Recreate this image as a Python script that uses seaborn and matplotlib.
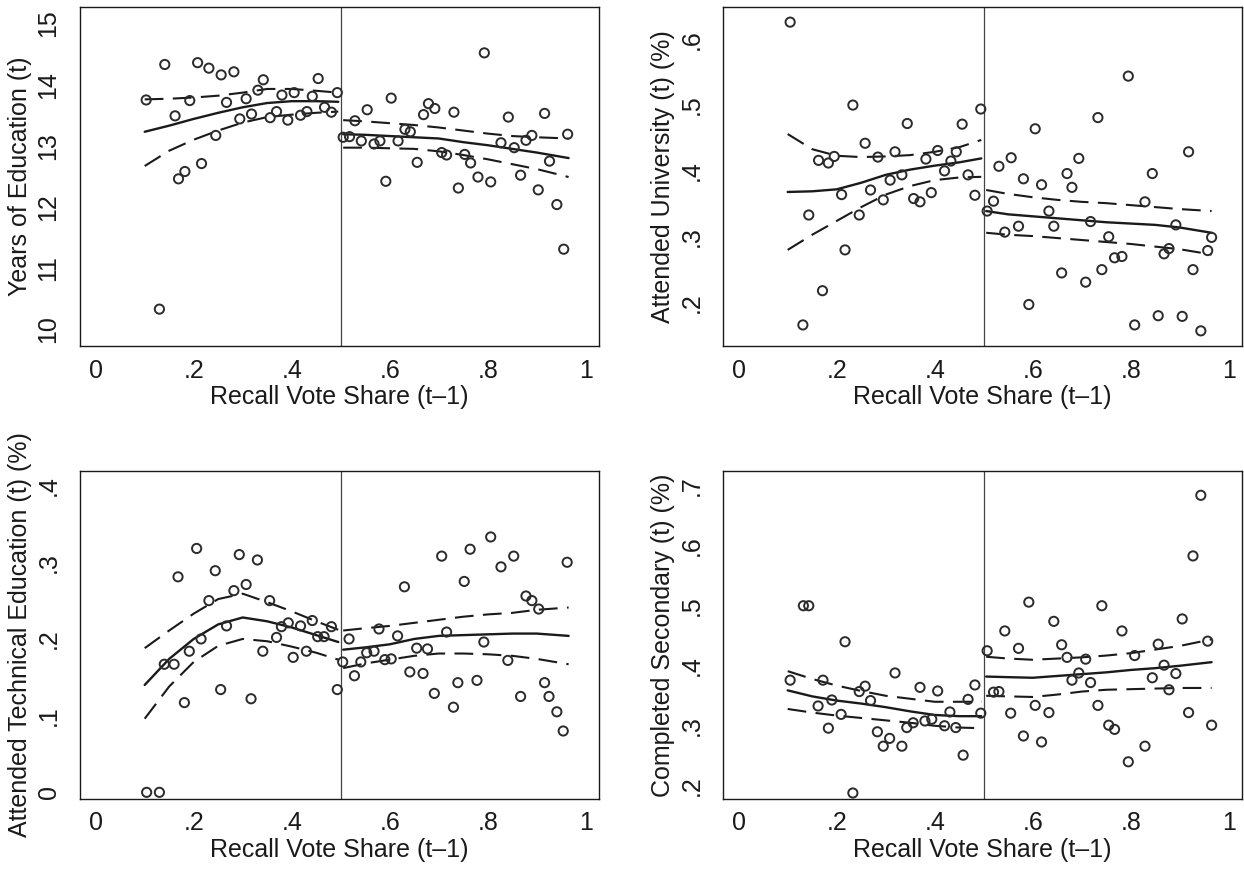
import matplotlib
matplotlib.use("Agg")
import matplotlib.pyplot as plt
import seaborn as sns

# --- panel 1: years of education ---
p1_x = [0.103, 0.130, 0.141, 0.162, 0.169, 0.182, 0.192, 0.208, 0.216, 0.231, 0.245, 0.256,
        0.267, 0.282, 0.294, 0.307, 0.318, 0.331, 0.342, 0.356, 0.369, 0.380, 0.392, 0.405,
        0.418, 0.431, 0.442, 0.454, 0.467, 0.481, 0.493,
        0.505, 0.518, 0.529, 0.542, 0.554, 0.568, 0.580, 0.592, 0.603, 0.617, 0.631, 0.642,
        0.656, 0.669, 0.679, 0.692, 0.706, 0.716, 0.731, 0.740, 0.753, 0.765, 0.780, 0.793,
        0.806, 0.827, 0.842, 0.854, 0.867, 0.878, 0.890, 0.903, 0.916, 0.926, 0.941, 0.955, 0.963]
p1_y = [13.75, 10.33, 14.33, 13.49, 12.46, 12.58, 13.74, 14.36, 12.71, 14.27, 13.17, 14.16,
        13.71, 14.21, 13.44, 13.77, 13.52, 13.91, 14.08, 13.46, 13.56, 13.83, 13.42, 13.87,
        13.50, 13.56, 13.81, 14.10, 13.63, 13.55, 13.87,
        13.14, 13.15, 13.41, 13.08, 13.59, 13.03, 13.08, 12.42, 13.78, 13.08, 13.27, 13.23,
        12.73, 13.51, 13.69, 13.61, 12.89, 12.85, 13.55, 12.31, 12.86, 12.72, 12.49, 14.52,
        12.41, 13.05, 13.47, 12.97, 12.52, 13.09, 13.17, 12.28, 13.53, 12.75, 12.04, 11.31, 13.19]

# --- panel 2: attended university ---
p2_x = [0.105, 0.131, 0.143, 0.163, 0.171, 0.183, 0.195, 0.210, 0.217, 0.233, 0.246, 0.258,
        0.269, 0.284, 0.295, 0.309, 0.319, 0.333, 0.344, 0.357, 0.370, 0.382, 0.393, 0.406,
        0.420, 0.433, 0.444, 0.456, 0.468, 0.482, 0.494,
        0.507, 0.520, 0.531, 0.543, 0.556, 0.571, 0.581, 0.592, 0.605, 0.618, 0.633, 0.643,
        0.659, 0.670, 0.680, 0.694, 0.708, 0.718, 0.733, 0.741, 0.755, 0.767, 0.782, 0.795,
        0.808, 0.829, 0.844, 0.856, 0.868, 0.878, 0.892, 0.905, 0.918, 0.927, 0.943, 0.957, 0.965]
p2_y = [0.626, 0.166, 0.333, 0.416, 0.218, 0.412, 0.422, 0.364, 0.280, 0.500, 0.333, 0.442,
        0.371, 0.421, 0.356, 0.386, 0.429, 0.394, 0.472, 0.358, 0.353, 0.418, 0.367, 0.431,
        0.400, 0.415, 0.429, 0.471, 0.394, 0.363, 0.494,
        0.339, 0.354, 0.407, 0.307, 0.420, 0.316, 0.388, 0.197, 0.464, 0.379, 0.339, 0.316,
        0.245, 0.396, 0.375, 0.419, 0.231, 0.323, 0.481, 0.250, 0.300, 0.268, 0.270, 0.544,
        0.166, 0.353, 0.396, 0.180, 0.274, 0.282, 0.318, 0.179, 0.429, 0.250, 0.157, 0.279, 0.299]

# --- panel 3: attended technical education ---
p3_x = [0.104, 0.130, 0.140, 0.160, 0.168, 0.181, 0.191, 0.206, 0.215, 0.231, 0.244, 0.255,
        0.267, 0.282, 0.293, 0.307, 0.317, 0.330, 0.341, 0.355, 0.369, 0.379, 0.393, 0.403,
        0.418, 0.430, 0.442, 0.453, 0.466, 0.481, 0.493,
        0.504, 0.517, 0.528, 0.541, 0.553, 0.568, 0.578, 0.590, 0.603, 0.616, 0.630, 0.641,
        0.655, 0.668, 0.677, 0.691, 0.706, 0.716, 0.730, 0.739, 0.752, 0.764, 0.778, 0.792,
        0.806, 0.827, 0.841, 0.853, 0.867, 0.878, 0.890, 0.904, 0.916, 0.925, 0.941, 0.954, 0.962]
p3_y = [0.000, 0.000, 0.167, 0.167, 0.281, 0.117, 0.184, 0.318, 0.200, 0.250, 0.289, 0.134,
        0.217, 0.263, 0.310, 0.271, 0.122, 0.303, 0.184, 0.250, 0.202, 0.216, 0.221, 0.176,
        0.217, 0.184, 0.224, 0.203, 0.203, 0.216, 0.134,
        0.170, 0.200, 0.152, 0.170, 0.182, 0.184, 0.213, 0.173, 0.174, 0.204, 0.268, 0.157,
        0.188, 0.155, 0.187, 0.129, 0.308, 0.209, 0.111, 0.143, 0.275, 0.317, 0.146, 0.196,
        0.333, 0.294, 0.172, 0.308, 0.125, 0.256, 0.250, 0.239, 0.143, 0.125, 0.105, 0.080, 0.300]

# --- panel 4: completed secondary ---
p4_x = [0.105, 0.132, 0.143, 0.162, 0.172, 0.183, 0.190, 0.209, 0.217, 0.233, 0.246, 0.258,
        0.269, 0.283, 0.295, 0.308, 0.319, 0.333, 0.343, 0.356, 0.370, 0.380, 0.394, 0.406,
        0.420, 0.431, 0.443, 0.458, 0.468, 0.482, 0.494,
        0.507, 0.520, 0.531, 0.543, 0.555, 0.571, 0.581, 0.592, 0.605, 0.618, 0.633, 0.643,
        0.659, 0.670, 0.680, 0.694, 0.708, 0.718, 0.733, 0.741, 0.755, 0.767, 0.782, 0.795,
        0.808, 0.829, 0.844, 0.856, 0.868, 0.878, 0.892, 0.905, 0.918, 0.927, 0.943, 0.957, 0.965]
p4_y = [0.376, 0.500, 0.500, 0.333, 0.376, 0.296, 0.343, 0.319, 0.440, 0.188, 0.357, 0.366,
        0.342, 0.290, 0.266, 0.279, 0.388, 0.266, 0.297, 0.305, 0.364, 0.308, 0.311, 0.358,
        0.300, 0.323, 0.297, 0.251, 0.344, 0.368, 0.321,
        0.425, 0.356, 0.357, 0.458, 0.321, 0.429, 0.283, 0.506, 0.334, 0.273, 0.322, 0.474,
        0.435, 0.414, 0.376, 0.388, 0.411, 0.372, 0.334, 0.500, 0.301, 0.294, 0.458, 0.240,
        0.417, 0.266, 0.380, 0.436, 0.401, 0.360, 0.387, 0.478, 0.322, 0.583, 0.684, 0.441, 0.301]

# local fits with confidence bands, each side of the cutoff
left_grid = [0.10, 0.15, 0.20, 0.25, 0.30, 0.35, 0.40, 0.45, 0.495]
right_grid = [0.505, 0.55, 0.60, 0.65, 0.70, 0.75, 0.80, 0.85, 0.90, 0.965]

p1_left_fit = [13.23, 13.33, 13.44, 13.54, 13.63, 13.70, 13.73, 13.73, 13.72]
p1_left_hi = [13.76, 13.77, 13.79, 13.82, 13.87, 13.93, 13.93, 13.90, 13.87]
p1_left_lo = [12.67, 12.92, 13.10, 13.25, 13.38, 13.47, 13.51, 13.54, 13.56]
p1_right_fit = [13.19, 13.18, 13.16, 13.14, 13.12, 13.06, 13.01, 12.95, 12.89, 12.80]
p1_right_hi = [13.42, 13.40, 13.37, 13.34, 13.30, 13.25, 13.20, 13.16, 13.14, 13.12]
p1_right_lo = [12.97, 12.97, 12.96, 12.95, 12.91, 12.85, 12.78, 12.70, 12.62, 12.49]

p2_left_fit = [0.368, 0.369, 0.372, 0.382, 0.394, 0.402, 0.408, 0.413, 0.419]
p2_left_hi = [0.456, 0.433, 0.423, 0.421, 0.422, 0.424, 0.429, 0.436, 0.447]
p2_left_lo = [0.280, 0.303, 0.324, 0.345, 0.364, 0.377, 0.386, 0.390, 0.391]
p2_right_fit = [0.339, 0.334, 0.331, 0.328, 0.325, 0.322, 0.320, 0.318, 0.314, 0.306]
p2_right_hi = [0.371, 0.365, 0.360, 0.356, 0.353, 0.351, 0.348, 0.345, 0.342, 0.339]
p2_right_lo = [0.306, 0.303, 0.301, 0.298, 0.295, 0.292, 0.289, 0.285, 0.281, 0.273]

p3_left_fit = [0.140, 0.174, 0.200, 0.219, 0.228, 0.223, 0.215, 0.205, 0.196]
p3_left_hi = [0.188, 0.211, 0.233, 0.252, 0.259, 0.248, 0.236, 0.223, 0.212]
p3_left_lo = [0.096, 0.138, 0.170, 0.191, 0.200, 0.197, 0.190, 0.182, 0.173]
p3_right_fit = [0.186, 0.189, 0.193, 0.200, 0.204, 0.205, 0.206, 0.207, 0.207, 0.204]
p3_right_hi = [0.211, 0.214, 0.217, 0.221, 0.225, 0.229, 0.232, 0.234, 0.238, 0.241]
p3_right_lo = [0.162, 0.168, 0.173, 0.178, 0.181, 0.181, 0.180, 0.178, 0.174, 0.167]

p4_left_fit = [0.359, 0.349, 0.342, 0.337, 0.331, 0.324, 0.318, 0.316, 0.316]
p4_left_hi = [0.391, 0.378, 0.367, 0.358, 0.350, 0.345, 0.340, 0.340, 0.340]
p4_left_lo = [0.328, 0.322, 0.317, 0.313, 0.309, 0.305, 0.300, 0.297, 0.296]
p4_right_fit = [0.382, 0.381, 0.380, 0.383, 0.386, 0.389, 0.393, 0.396, 0.400, 0.406]
p4_right_hi = [0.415, 0.412, 0.410, 0.412, 0.414, 0.417, 0.421, 0.427, 0.433, 0.444]
p4_right_lo = [0.350, 0.349, 0.348, 0.352, 0.357, 0.360, 0.361, 0.362, 0.363, 0.363]

x_ticks = [0, 0.2, 0.4, 0.6, 0.8, 1]
x_labels = ["0", ".2", ".4", ".6", ".8", "1"]

p1_ticks = [10, 11, 12, 13, 14, 15]
p1_labels = ["10", "11", "12", "13", "14", "15"]
p2_ticks = [0.2, 0.3, 0.4, 0.5, 0.6]
p2_labels = [".2", ".3", ".4", ".5", ".6"]
p3_ticks = [0, 0.1, 0.2, 0.3, 0.4]
p3_labels = ["0", ".1", ".2", ".3", ".4"]
p4_ticks = [0.2, 0.3, 0.4, 0.5, 0.6, 0.7]
p4_labels = [".2", ".3", ".4", ".5", ".6", ".7"]

sns.set_style("white")
plt.rcParams["font.family"] = ["Liberation Sans", "DejaVu Sans"]

W, H = 1244, 877
fig = plt.figure(figsize=(W / 100, H / 100), dpi=100)

INK = "#1a1a1a"
DASH = (0, (9, 4.5))
FS = 18


def panel(box, xs, ys, fits, ylim, yticks, ylabels, ytitle):
    left, top, right, bottom = box
    ax = fig.add_axes([left / W, 1 - bottom / H, (right - left) / W, (bottom - top) / H])
    sns.scatterplot(x=xs, y=ys, ax=ax, marker="o", s=44, facecolors="none",
                    edgecolor="#2b2b2b", linewidth=1.4, zorder=3)
    for grid, fit, hi, lo in fits:
        sns.lineplot(x=grid, y=fit, ax=ax, color=INK, lw=1.7, zorder=2)
        sns.lineplot(x=grid, y=hi, ax=ax, color=INK, lw=1.5, linestyle=DASH, zorder=2)
        sns.lineplot(x=grid, y=lo, ax=ax, color=INK, lw=1.5, linestyle=DASH, zorder=2)
    ax.axvline(0.5, color="#444444", lw=0.9, zorder=1)
    ax.set_xlim(-0.032, 1.027)
    ax.set_ylim(*ylim)
    ax.set_xticks(x_ticks)
    ax.set_xticklabels(x_labels)
    ax.set_yticks(yticks)
    ax.set_yticklabels(ylabels, rotation=90, va="center")
    ax.tick_params(axis="both", direction="out", length=7, width=1.0, color=INK,
                   labelsize=FS, labelcolor=INK)
    ax.tick_params(axis="x", pad=2)
    ax.tick_params(axis="y", pad=7)
    for sp in ax.spines.values():
        sp.set_visible(True)
        sp.set_color(INK)
        sp.set_linewidth(1.0)
    ax.set_xlabel("Recall Vote Share (t\u20131)", fontsize=FS, color=INK, labelpad=2)
    ax.set_ylabel(ytitle, fontsize=FS, color=INK, labelpad=3)
    return ax


panel((80, 7, 599, 346), p1_x, p1_y,
      [(left_grid, p1_left_fit, p1_left_hi, p1_left_lo),
       (right_grid, p1_right_fit, p1_right_hi, p1_right_lo)],
      (9.727, 15.27), p1_ticks, p1_labels, "Years of Education (t)")

panel((723, 7, 1242, 346), p2_x, p2_y,
      [(left_grid, p2_left_fit, p2_left_hi, p2_left_lo),
       (right_grid, p2_right_fit, p2_right_hi, p2_right_lo)],
      (0.134, 0.649), p2_ticks, p2_labels, "Attended University (t) (%)")

panel((80, 471, 599, 799), p3_x, p3_y,
      [(left_grid, p3_left_fit, p3_left_hi, p3_left_lo),
       (right_grid, p3_right_fit, p3_right_hi, p3_right_lo)],
      (-0.0087, 0.419), p3_ticks, p3_labels, "Attended Technical Education (t) (%)")

panel((723, 471, 1242, 799), p4_x, p4_y,
      [(left_grid, p4_left_fit, p4_left_hi, p4_left_lo),
       (right_grid, p4_right_fit, p4_right_hi, p4_right_lo)],
      (0.178, 0.7245), p4_ticks, p4_labels, "Completed Secondary (t) (%)")

fig.savefig("out.png", dpi=100)
